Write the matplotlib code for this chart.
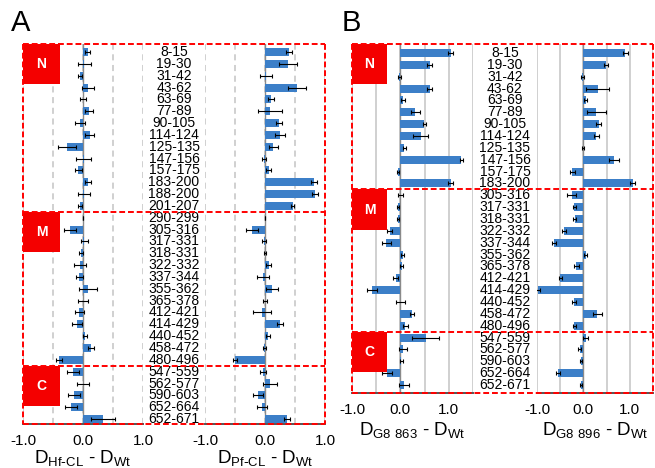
import matplotlib
matplotlib.use("Agg")
import matplotlib.pyplot as plt
import matplotlib.transforms as mtransforms
from matplotlib.lines import Line2D
from matplotlib.patches import Rectangle
import numpy as np

plt.rcParams['font.family'] = ['Liberation Sans', 'DejaVu Sans']

# ---- パネルA (Hf-CL / Pf-CL) ----
labels_a = ['8-15', '19-30', '31-42', '43-62', '63-69', '77-89', '90-105', '114-124',
            '125-135', '147-156', '157-175', '183-200', '188-200', '201-207',
            '290-299', '305-316', '317-331', '318-331', '322-332', '337-344', '355-362',
            '365-378', '412-421', '414-429', '440-452', '458-472', '480-496',
            '547-559', '562-577', '590-603', '652-664', '652-671']
sections_a = [14, 13, 5]
hf_val = [0.08, 0.02, -0.05, 0.08, 0.0, 0.1, -0.05, 0.11, -0.27, 0.01, -0.08, 0.08, 0.02, -0.05,
          0.0, -0.22, 0.02, -0.03, -0.05, -0.06, 0.08, 0.0, -0.06, -0.1, 0.03, 0.13, -0.4,
          -0.17, 0.0, -0.15, -0.2, 0.33]
hf_err = [0.04, 0.11, 0.04, 0.1, 0.05, 0.06, 0.08, 0.08, 0.15, 0.13, 0.06, 0.05, 0.1, 0.04,
          0.0, 0.1, 0.06, 0.03, 0.1, 0.06, 0.15, 0.08, 0.08, 0.08, 0.03, 0.05, 0.05,
          0.1, 0.1, 0.1, 0.1, 0.2]
pf_val = [0.4, 0.39, 0.02, 0.53, 0.1, 0.08, 0.24, 0.25, 0.14, -0.02, 0.06, 0.81, 0.83, 0.46,
          0.0, -0.22, -0.02, 0.0, 0.06, -0.03, 0.12, 0.0, -0.05, 0.25, 0.05, -0.01, -0.5,
          -0.03, 0.08, -0.12, -0.05, 0.36]
pf_err = [0.05, 0.15, 0.1, 0.15, 0.05, 0.2, 0.05, 0.08, 0.08, 0.03, 0.04, 0.05, 0.05, 0.03,
          0.0, 0.1, 0.03, 0.02, 0.04, 0.1, 0.1, 0.04, 0.15, 0.05, 0.04, 0.02, 0.04,
          0.05, 0.12, 0.08, 0.08, 0.05]

# ---- パネルB (G8 863 / G8 896) ----
labels_b = ['8-15', '19-30', '31-42', '43-62', '63-69', '77-89', '90-105', '114-124',
            '125-135', '147-156', '157-175', '183-200',
            '305-316', '317-331', '318-331', '322-332', '337-344', '355-362', '365-378',
            '412-421', '414-429', '440-452', '458-472', '480-496',
            '547-559', '562-577', '590-603', '652-664', '652-671']
sections_b = [12, 12, 5]
g863_val = [1.04, 0.61, -0.02, 0.61, 0.06, 0.31, 0.49, 0.42, 0.08, 1.26, -0.05, 1.04,
            0.0, -0.05, -0.05, -0.22, -0.29, 0.05, 0.03, -0.1, -0.59, 0.0, 0.24, 0.1,
            0.52, 0.05, 0.02, -0.28, 0.08]
g863_err = [0.05, 0.05, 0.03, 0.05, 0.04, 0.1, 0.03, 0.15, 0.03, 0.03, 0.03, 0.05,
            0.05, 0.03, 0.03, 0.05, 0.1, 0.03, 0.03, 0.05, 0.1, 0.1, 0.04, 0.05,
            0.28, 0.08, 0.03, 0.1, 0.1]
g896_val = [0.9, 0.49, -0.02, 0.31, 0.05, 0.28, 0.33, 0.28, 0.0, 0.66, -0.24, 1.06,
            -0.25, -0.2, -0.19, -0.42, -0.63, 0.05, -0.15, -0.5, -0.98, -0.2, 0.3, -0.2,
            0.05, -0.08, -0.05, -0.55, -0.05]
g896_err = [0.05, 0.05, 0.03, 0.25, 0.03, 0.2, 0.05, 0.05, 0.02, 0.1, 0.05, 0.05,
            0.1, 0.03, 0.03, 0.05, 0.05, 0.03, 0.05, 0.03, 0.04, 0.04, 0.1, 0.03,
            0.05, 0.03, 0.03, 0.05, 0.03]

section_names = ['N', 'M', 'C']
bar_color = '#3c7fc8'


def draw_bars(ax, vals, errs, xlim, xticks, xticklabels, grid_ls, xlabel, ylim, lpad):
    y = np.arange(len(vals))
    ax.barh(y, vals, height=0.68, color=bar_color, zorder=3,
            xerr=errs, error_kw=dict(ecolor='black', elinewidth=0.8, capsize=1.2, capthick=0.8))
    ax.set_xlim(xlim)
    ax.set_ylim(ylim)
    ax.set_yticks([])
    ax.set_xticks(xticks)
    ax.set_xticklabels(xticklabels, fontsize=11)
    ax.tick_params(axis='x', length=0, pad=7)
    ax.grid(axis='x', color='#c4c4c4', ls=grid_ls, lw=1.1, zorder=0)
    ax.axvline(0, color='#8a8a8a', lw=1.0, zorder=2)
    for s in ['top', 'left', 'right']:
        ax.spines[s].set_visible(False)
    ax.spines['bottom'].set_color('#555555')
    ax.spines['bottom'].set_linewidth(1.4)
    ax.set_xlabel(xlabel, fontsize=13.5, labelpad=lpad)


def red_frame(fig, axL, axR, labels, sections, sq_w):
    pL = axL.get_position()
    pR = axR.get_position()
    x0, x1 = pL.x0, pR.x1
    tr = mtransforms.blended_transform_factory(fig.transFigure, axL.transData)
    ybot, ytop = axL.get_ylim()
    starts = np.concatenate([[0], np.cumsum(sections)[:-1]])
    bounds = [ytop] + list(starts[1:] - 0.5) + [ybot]
    for b in bounds:
        fig.add_artist(Line2D([x0, x1], [b, b], transform=tr, color='red',
                              ls=(0, (3, 1.5)), lw=1.4, zorder=10))
    for x in (x0, x1):
        fig.add_artist(Line2D([x, x], [ytop, ybot], transform=tr, color='red',
                              ls=(0, (3, 1.5)), lw=1.4, zorder=10))
    sq_h = 3.4
    tops = [ytop] + list(starts[1:] - 0.5)
    for top, name in zip(tops, section_names):
        fig.add_artist(Rectangle((x0, top), sq_w, sq_h, transform=tr,
                                 facecolor='#f40000', edgecolor='none', zorder=9))
        fig.text(x0 + sq_w / 2, top + sq_h / 2, name, transform=tr, color='white',
                 fontsize=10, fontweight='bold', ha='center', va='center', zorder=11)
    # 断片ラベル列
    xc = (pL.x1 + pR.x0) / 2
    for i, lab in enumerate(labels):
        fig.text(xc, i, lab, transform=tr, fontsize=10, ha='center', va='center',
                 color='black', zorder=8)


fig = plt.figure(figsize=(6.55, 4.68), dpi=100)

# パネルA
axA1 = fig.add_axes([0.0351, 0.0940, 0.1832, 0.8120])
axA2 = fig.add_axes([0.3130, 0.0940, 0.1832, 0.8120])
ylim_a = (len(labels_a) - 1 + 0.42, -0.68)
ticks_a = [-1, -0.5, 0, 0.5, 1]
tlab_a = ['-1.0', '', '0.0', '', '1.0']
draw_bars(axA1, hf_val, hf_err, (-1, 1), ticks_a, tlab_a, (0, (4, 3)),
          r'D$_{\mathregular{Hf\text{-}CL}}$ - D$_{\mathregular{Wt}}$', ylim_a, 0.5)
draw_bars(axA2, pf_val, pf_err, (-1, 1), ticks_a, tlab_a, (0, (4, 3)),
          r'D$_{\mathregular{Pf\text{-}CL}}$ - D$_{\mathregular{Wt}}$', ylim_a, 0.5)
red_frame(fig, axA1, axA2, labels_a, sections_a, 37 / 655)

# パネルB
axB1 = fig.add_axes([0.5374, 0.1603, 0.1847, 0.7457])
axB2 = fig.add_axes([0.8198, 0.1603, 0.1772, 0.7457])
ylim_b = (len(labels_b) - 1 + 0.67, -0.76)
ticks_b = [-1, -0.5, 0, 0.5, 1, 1.5]
tlab_b = ['-1.0', '', '0.0', '', '1.0', '']
draw_bars(axB1, g863_val, g863_err, (-1, 1.5), ticks_b, tlab_b, '-',
          r'D$_{\mathregular{G8\ 863}}$ - D$_{\mathregular{Wt}}$', ylim_b, 3)
draw_bars(axB2, g896_val, g896_err, (-1, 1.5), ticks_b, tlab_b, '-',
          r'D$_{\mathregular{G8\ 896}}$ - D$_{\mathregular{Wt}}$', ylim_b, 3)
red_frame(fig, axB1, axB2, labels_b, sections_b, 35 / 655)

fig.text(0.016, 0.95, 'A', fontsize=21, ha='left', va='center')
fig.text(0.522, 0.95, 'B', fontsize=21, ha='left', va='center')

fig.savefig('out.png', dpi=100)
